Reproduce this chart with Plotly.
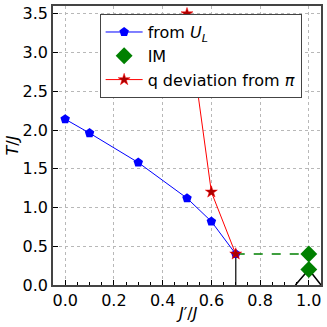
import plotly.graph_objects as go

# data
ul_x = [0.0, 0.1, 0.3, 0.5, 0.6, 0.7]
ul_t = [2.14, 1.96, 1.58, 1.12, 0.82, 0.40]

im_x = [1.0, 1.0]
im_t = [0.40, 0.20]

q_x = [0.5, 0.6, 0.7]
q_t = [3.50, 1.20, 0.40]

dash_x = [0.7, 1.0]
dash_t = [0.40, 0.40]

vline_x = [0.7, 0.7]
vline_t = [0.0, 0.40]

cap_x = [0.945, 1.0, 1.05]
cap_t = [0.0, 0.20, 0.0]

fig = go.Figure()
fig.add_trace(go.Scatter(x=vline_x, y=vline_t, mode='lines',
                         line=dict(color='#333333', width=1.5), showlegend=False))
fig.add_trace(go.Scatter(x=cap_x, y=cap_t, mode='lines',
                         line=dict(color='black', width=1.5), showlegend=False))
fig.add_trace(go.Scatter(x=dash_x, y=dash_t, mode='lines',
                         line=dict(color='green', width=1.5, dash='dash'), showlegend=False))
fig.add_trace(go.Scatter(x=ul_x, y=ul_t, mode='lines+markers',
                         name='from <i>U</i><sub><i>L</i></sub>',
                         line=dict(color='blue', width=1),
                         marker=dict(symbol='pentagon', size=10, color='blue')))
fig.add_trace(go.Scatter(x=im_x, y=im_t, mode='markers', name='IM',
                         marker=dict(symbol='diamond', size=13, color='green')))
fig.add_trace(go.Scatter(x=q_x, y=q_t, mode='lines+markers',
                         name='q deviation from <i>π</i>',
                         line=dict(color='red', width=1),
                         marker=dict(symbol='star', size=9, color='#aa0000',
                                     line=dict(color='red', width=0.5))))

axis_style = dict(showline=True, linecolor='#444444', linewidth=1.5, mirror=True,
                  ticks='inside', ticklen=5, tickcolor='black',
                  showgrid=True, gridcolor='#b8b8b8', griddash='dot', gridwidth=1,
                  zeroline=False, tickfont=dict(size=16, color='black'))

fig.update_layout(
    width=327, height=327,
    margin=dict(l=53, r=4, t=6, b=42),
    plot_bgcolor='white', paper_bgcolor='white',
    font=dict(family='DejaVu Sans', color='black'),
    legend=dict(x=0.174, y=0.971, xanchor='left', yanchor='top',
                bordercolor='#444444', borderwidth=1, bgcolor='white',
                font=dict(size=16), itemwidth=37, tracegroupgap=0),
    annotations=[dict(text='<i>J</i>\u2032/<i>J</i>', x=0.5, y=0, xref='paper', yref='paper',
                      xanchor='center', yanchor='top', yshift=-17, showarrow=False,
                      font=dict(size=16))],
)
fig.update_xaxes(range=[-0.05, 1.05], tickvals=[0, 0.2, 0.4, 0.6, 0.8, 1.0],
                 ticktext=['0.0', '0.2', '0.4', '0.6', '0.8', '1.0'],
                 minor=dict(ticks='inside', ticklen=3, dtick=0.05, tickcolor='black', showgrid=False),
                 **axis_style)
fig.update_yaxes(range=[0, 3.6], tickvals=[0, 0.5, 1.0, 1.5, 2.0, 2.5, 3.0, 3.5],
                 ticktext=['0.0', '0.5', '1.0', '1.5', '2.0', '2.5', '3.0', '3.5'],
                 title=dict(text='<i>T</i>/<i>J</i>', font=dict(size=16), standoff=0),
                 **axis_style)

fig.write_html('out.html', config={'displayModeBar': False},
               post_script="document.body.style.margin='0';")
